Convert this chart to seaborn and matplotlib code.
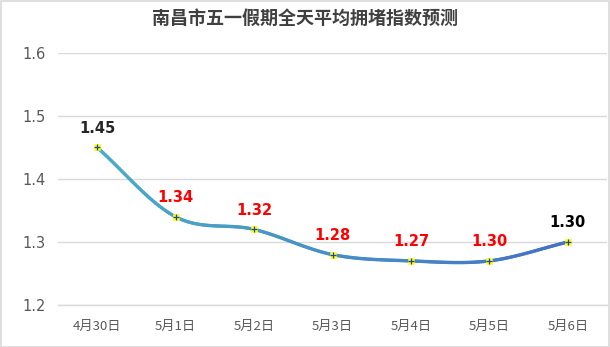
import numpy as np
import pandas as pd
import matplotlib
matplotlib.use("Agg")
import matplotlib.pyplot as plt
import seaborn as sns
from matplotlib.collections import LineCollection
from matplotlib.patches import Rectangle

categories = ["4月30日", "5月1日", "5月2日", "5月3日", "5月4日", "5月5日", "5月6日"]
values = [1.45, 1.34, 1.32, 1.28, 1.27, 1.27, 1.30]
point_labels = ["1.45", "1.34", "1.32", "1.28", "1.27", "1.30", "1.30"]
label_colors = ["#262626", "#FF0000", "#FF0000", "#FF0000", "#FF0000", "#FF0000", "#000000"]
yticks = [1.2, 1.3, 1.4, 1.5, 1.6]
title = "南昌市五一假期全天平均拥堵指数预测"

sns.set_theme(style="white")
plt.rcParams['font.family'] = ['Noto Sans CJK SC', 'DejaVu Sans']

fig = plt.figure(figsize=(6.10, 3.47), dpi=100)
ax = fig.add_axes([58/610, 1 - 305/347, 549/610, (305-53)/347])

df = pd.DataFrame({"x": np.arange(len(categories)), "y": values})

# smooth curve (Catmull-Rom) through the data points
def catmull(xs, ys, n=40):
    px = np.concatenate([[2*xs[0]-xs[1]], xs, [2*xs[-1]-xs[-2]]])
    py = np.concatenate([[2*ys[0]-ys[1]], ys, [2*ys[-1]-ys[-2]]])
    outx, outy = [], []
    for i in range(1, len(px)-2):
        t = np.linspace(0, 1, n)
        p0, p1, p2, p3 = [np.array([px[j], py[j]]) for j in range(i-1, i+3)]
        t2, t3 = t*t, t*t*t
        pts = 0.5*((2*p1)[:, None] + (-p0+p2)[:, None]*t + (2*p0-5*p1+4*p2-p3)[:, None]*t2 + (-p0+3*p1-3*p2+p3)[:, None]*t3)
        outx.extend(pts[0]); outy.extend(pts[1])
    return np.array(outx), np.array(outy)

sx, sy = catmull(df["x"].values.astype(float), df["y"].values.astype(float))
pts = np.column_stack([sx, sy]).reshape(-1, 1, 2)
segs = np.concatenate([pts[:-1], pts[1:]], axis=1)
c0 = np.array([75, 172, 198]) / 255
c1 = np.array([68, 114, 196]) / 255
frac = np.linspace(0, 1, len(segs))[:, None]
cols = c0 * (1 - frac) + c1 * frac
lc = LineCollection(segs, colors=cols, linewidths=2.4, capstyle="round", zorder=3)
ax.add_collection(lc)

sns.scatterplot(data=df, x="x", y="y", ax=ax, marker="s", s=22, color="#FFFF00",
                edgecolor="#FFFF00", zorder=4, legend=False)
sns.scatterplot(data=df, x="x", y="y", ax=ax, marker="+", s=20, color="#1F3FBF",
                linewidth=0.9, zorder=5, legend=False)

for i, (v, lab, c) in enumerate(zip(values, point_labels, label_colors)):
    ax.annotate(lab, (i, v), xytext=(0, 8.5), textcoords="offset points", ha="center",
                va="bottom", fontsize=10.5, fontweight="bold", color=c, family=['DejaVu Sans'])

ax.set_xlim(-0.5, len(categories) - 0.5)
ax.set_ylim(1.2, 1.6)
ax.set_yticks(yticks)
ax.set_yticklabels([f"{t:.1f}" for t in yticks], fontsize=10.5, color="#595959", family=['DejaVu Sans'])
ax.set_xticks(np.arange(len(categories)))
ax.set_xticklabels(categories, fontsize=9.5, color="#595959")
ax.set_xticks(np.arange(-0.5, len(categories)), minor=True)
ax.tick_params(axis="x", which="major", length=0, pad=11)
ax.tick_params(axis="x", which="minor", length=5, color="#d9d9d9", width=1)
ax.tick_params(axis="y", length=0, pad=9)
ax.grid(axis="y", color="#d9d9d9", linewidth=1)
ax.set_axisbelow(True)
for s in ["top", "right", "left"]:
    ax.spines[s].set_visible(False)
ax.spines["bottom"].set_color("#d9d9d9")
ax.spines["bottom"].set_linewidth(1)
ax.set_xlabel("")
ax.set_ylabel("")

fig.text(0.5, 1 - 18/347, title, ha="center", va="center", fontsize=13,
         fontweight="bold", color="#404040")
fig.patches.append(Rectangle((0.5/610, 0.5/347), 1 - 1.5/610, 1 - 1.5/347, transform=fig.transFigure,
                             fill=False, edgecolor="#d9d9d9", linewidth=1.2))

fig.savefig("out.png", dpi=100)
